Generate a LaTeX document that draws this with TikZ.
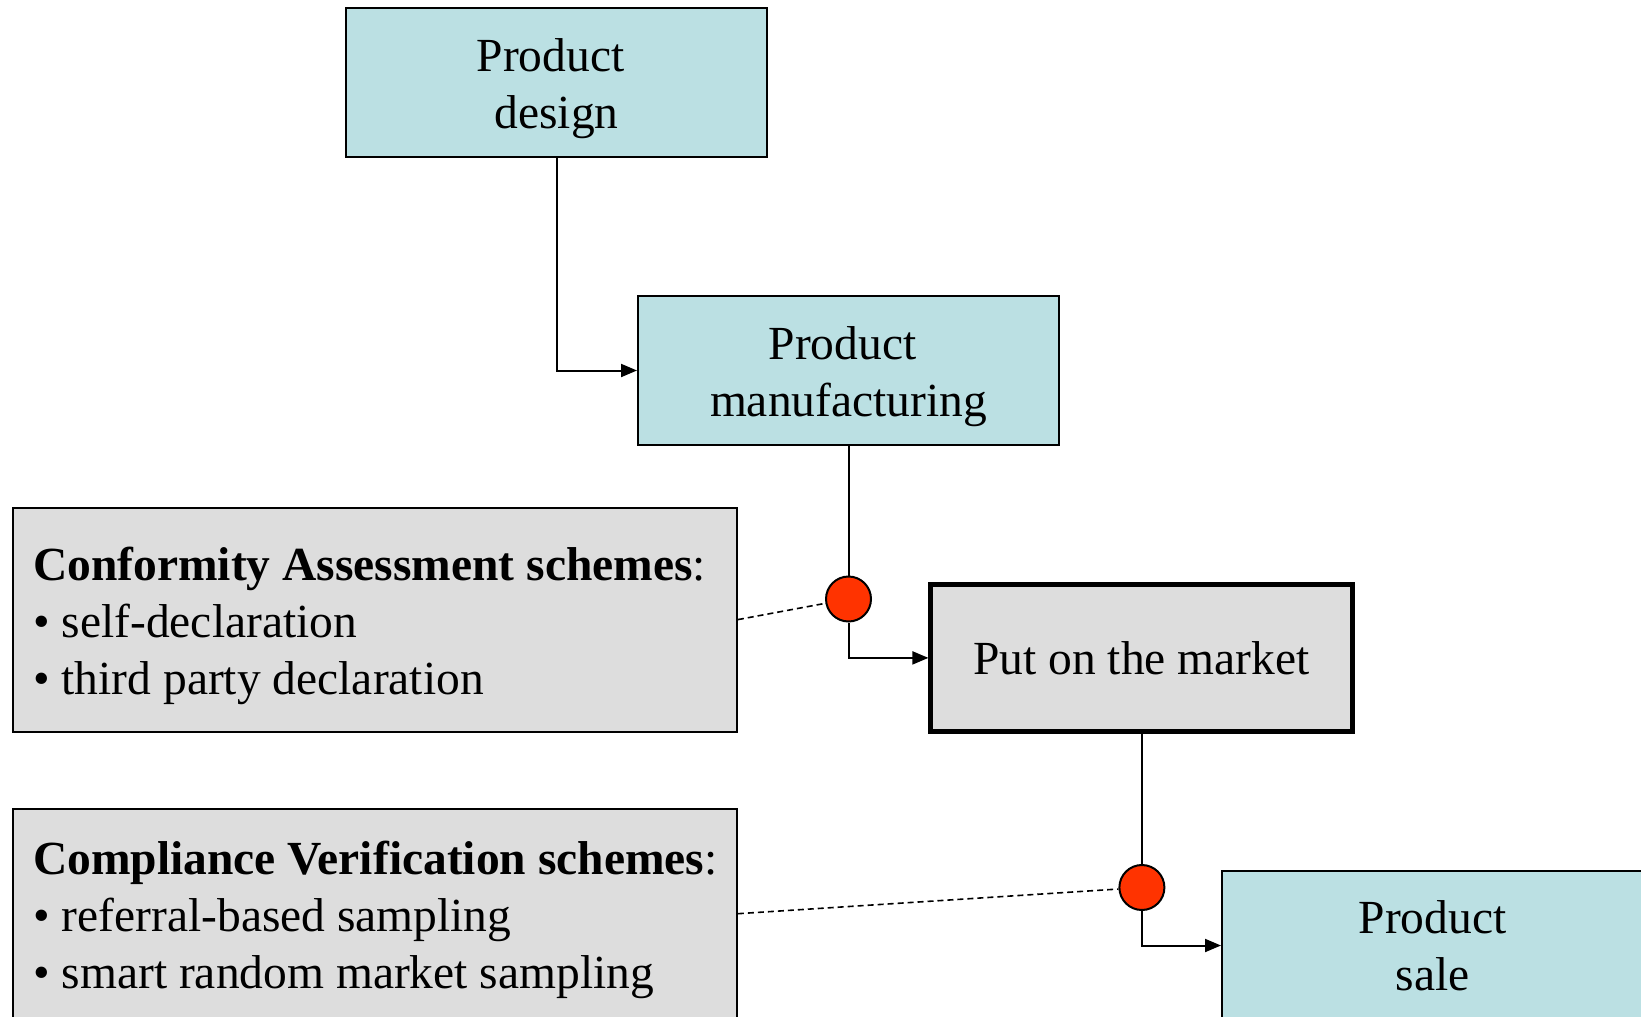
\documentclass[tikz,border=0pt]{standalone}
\usepackage{fontspec}
\setmainfont{Liberation Serif}
\usetikzlibrary{arrows.meta}
\definecolor{boxblue}{HTML}{BBE0E3}
\definecolor{boxgray}{HTML}{DDDDDD}
\definecolor{dotred}{HTML}{FF3300}
\tikzset{
  bluebox/.style={draw=black, line width=2pt, fill=boxblue, minimum width=421pt, minimum height=149pt, inner sep=0pt},
  graybox/.style={draw=black, line width=2pt, fill=boxgray, inner sep=0pt},
  markbox/.style={draw=black, line width=5pt, fill=boxgray, minimum width=422pt, minimum height=147pt, inner sep=0pt},
  dot/.style={circle, draw=black, line width=2pt, fill=dotred, minimum size=45pt, inner sep=0pt},
  txt/.style={inner sep=0pt, font=\fontsize{47.5}{57}\selectfont},
  flow/.style={line width=2pt, -{Triangle[length=16pt,width=13pt]}},
  link/.style={line width=2pt},
  dashlink/.style={line width=1.6pt, dash pattern=on 6pt off 4pt},
}
\begin{document}
\begin{tikzpicture}[x=1pt, y=-1pt]
  \useasboundingbox (0,0) rectangle (1641,1017);
  \clip (0,0) rectangle (1641,1017);
  \fill[white] (0,0) rectangle (1641,1017);

  % boxes
  \node[bluebox] (design) at (556.5,82.5) {};
  \node[bluebox] (manuf) at (848.5,370.5) {};
  \node[markbox] (put) at (1141.9,657.9) {};
  \node[bluebox] (sale) at (1432.5,945.5) {};
  \node[graybox, minimum width=724.4pt, minimum height=224.1pt] (conf) at (374.7,619.6) {};
  \node[graybox, minimum width=724.4pt, minimum height=209.4pt] (comp) at (374.7,913.7) {};

  % dots
  \node[dot] (circ1) at (848.5,599) {};
  \node[dot] (circ2) at (1141.9,887.5) {};

  % texts
  \node[txt, anchor=base] (designT) at (556.5,71.7)
    {\begin{tabular}[t]{@{}c@{}}Product\hspace*{0.25em}\\design\end{tabular}};
  \node[txt, anchor=base] (manufT) at (848.5,359)
    {\begin{tabular}[t]{@{}c@{}}Product\hspace*{0.25em}\\manufacturing\end{tabular}};
  \node[txt, anchor=base] (putT) at (1141.5,674) {Put on the market};
  \node[txt, anchor=base] (saleT) at (1432.5,933)
    {\begin{tabular}[t]{@{}c@{}}Product\\sale\end{tabular}};
  \node[txt, anchor=base west] (confT) at (33,580)
    {\begin{tabular}[t]{@{}l@{}}\textbf{Conformity Assessment schemes}:\\• self-declaration\\• third party declaration\end{tabular}};
  \node[txt, anchor=base west] (compT) at (33,874.5)
    {\begin{tabular}[t]{@{}l@{}}\textbf{Compliance Verification schemes}:\\• referral-based sampling\\• smart random market sampling\end{tabular}};

  % connectors
  \draw[flow] (design.south) |- (manuf.west);
  \draw[link] (manuf.south) -- (circ1.north);
  \draw[flow] (circ1.south) |- (put.west);
  \draw[link] (put.south) -- (circ2.north);
  \draw[flow] (circ2.south) |- (sale.west);
  \draw[dashlink] (conf.east) -- (circ1);
  \draw[dashlink] (comp.east) -- (circ2);
\end{tikzpicture}
\end{document}
